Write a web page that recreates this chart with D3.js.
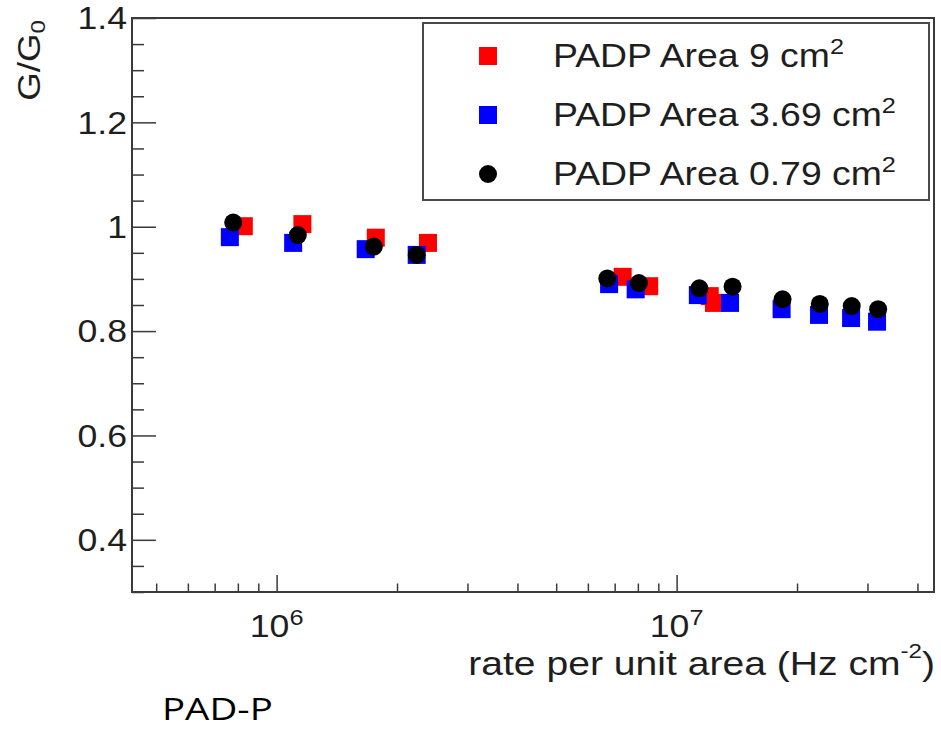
<!DOCTYPE html>
<html>
<head>
<meta charset="utf-8">
<script src="https://cdn.jsdelivr.net/npm/d3@7/dist/d3.min.js"></script>
<style>
body { margin:0; background:#fff; }
text { font-family:"Liberation Sans", Arial, Helvetica, sans-serif; fill:#1e1e1e; }
.tick line { stroke:#3a3a3a; stroke-width:1.5; }
</style>
</head>
<body>
<svg id="chart" width="941" height="730"></svg>
<script>
/* data */
var seriesNames = ["PADP Area 9 cm", "PADP Area 3.69 cm", "PADP Area 0.79 cm"]
var seriesColors = ["#ff0000", "#0000ff", "#000000"]
var seriesShapes = ["square", "square", "circle"]

var rate9 = [8.28e5, 1.16e6, 1.77e6, 2.39e6, 7.33e6, 8.54e6, 1.21e7, 1.24e7]
var gain9 = [1.001, 1.005, 0.979, 0.969, 0.904, 0.886, 0.867, 0.854]

var rate369 = [7.64e5, 1.10e6, 1.67e6, 2.24e6, 6.78e6, 7.90e6, 1.13e7, 1.36e7, 1.83e7, 2.27e7, 2.73e7, 3.17e7]
var gain369 = [0.980, 0.969, 0.957, 0.946, 0.890, 0.880, 0.869, 0.854, 0.842, 0.831, 0.825, 0.818]

var rate079 = [7.79e5, 1.13e6, 1.75e6, 2.24e6, 6.71e6, 8.05e6, 1.14e7, 1.38e7, 1.84e7, 2.28e7, 2.74e7, 3.19e7]
var gain079 = [1.008, 0.984, 0.962, 0.946, 0.901, 0.892, 0.882, 0.885, 0.861, 0.852, 0.848, 0.842]

var xMajorTicks = [1e6, 1e7]
var xTickExp = ["6", "7"]
var yMajorTicks = [0.4, 0.6, 0.8, 1.0, 1.2, 1.4]
var yTickLabels = ["0.4", "0.6", "0.8", "1", "1.2", "1.4"]

var seriesRates = [rate9, rate369, rate079]
var seriesGains = [gain9, gain369, gain079]

/* layout */
var svg = d3.select("#chart")
var frame = {left:132, top:18, right:934, bottom:592}
var sx = 1.15
var markSize = 18

function stretchAt(x, y) {
  return "translate(" + x + "," + y + ") scale(" + sx + ",1)"
}

var xScale = d3.scaleLog()
  .domain([4.35e5, 4.4e7])
  .range([frame.left, frame.right])
var yScale = d3.scaleLinear()
  .domain([0.3, 1.4])
  .range([frame.bottom, frame.top])

/* ticks, drawn inward like ROOT */
var xMinor = xScale.ticks().filter(function(d) { return xMajorTicks.indexOf(d) < 0 })
var yMinor = yScale.ticks(22).filter(function(d) {
  return !yMajorTicks.some(function(m) { return Math.abs(m - d) < 1e-6 })
})

var xAxisMajor = svg.append("g")
  .attr("transform","translate(0," + frame.bottom + ")")
  .call(d3.axisBottom(xScale).tickValues(xMajorTicks).tickSize(-17).tickFormat(""))
var xAxisMinor = svg.append("g")
  .attr("transform","translate(0," + frame.bottom + ")")
  .call(d3.axisBottom(xScale).tickValues(xMinor).tickSize(-8.5).tickFormat(""))
var yAxisMajor = svg.append("g")
  .attr("transform","translate(" + frame.left + ",0)")
  .call(d3.axisLeft(yScale).tickValues(yMajorTicks).tickSize(-24).tickFormat(""))
var yAxisMinor = svg.append("g")
  .attr("transform","translate(" + frame.left + ",0)")
  .call(d3.axisLeft(yScale).tickValues(yMinor).tickSize(-12).tickFormat(""))
svg.selectAll(".domain").remove()

/* frame */
svg.append("rect")
  .attr("x",frame.left)
  .attr("y",frame.top)
  .attr("width",frame.right - frame.left)
  .attr("height",frame.bottom - frame.top)
  .attr("fill","none")
  .attr("stroke","#3a3a3a")
  .attr("stroke-width",2)

/* tick labels */
svg.selectAll(".ylab")
  .data(yMajorTicks)
  .enter()
  .append("text")
  .attr("class","ylab")
  .attr("transform",function(d) { return stretchAt(frame.left - 5, yScale(d)) })
  .attr("dy","0.36em")
  .attr("text-anchor","end")
  .attr("font-size",31)
  .text(function(d,i) { return yTickLabels[i] })

var xLab = svg.selectAll(".xlab")
  .data(xMajorTicks)
  .enter()
  .append("text")
  .attr("class","xlab")
  .attr("transform",function(d) { return stretchAt(xScale(d), 637) })
  .attr("text-anchor","middle")
  .attr("font-size",31)
xLab.append("tspan").text("10")
xLab.append("tspan")
  .attr("font-size",22)
  .attr("dy",-12)
  .text(function(d,i) { return xTickExp[i] })

/* axis titles */
var xTitle = svg.append("text")
  .attr("transform",stretchAt(frame.right + 1, 675))
  .attr("text-anchor","end")
  .attr("font-size",34)
xTitle.append("tspan").text("rate per unit area (Hz cm")
xTitle.append("tspan").attr("font-size",21).attr("dy",-17).text("-2")
xTitle.append("tspan").attr("dy",17).text(")")

var yTitle = svg.append("text")
  .attr("transform","translate(40,20) rotate(-90) scale(" + sx + ",1)")
  .attr("text-anchor","end")
  .attr("font-size",32)
yTitle.append("tspan").text("G/G")
yTitle.append("tspan").attr("font-size",21).attr("dy",5).text("0")

/* data points */
function drawMarker(sel, shape, color) {
  if (shape == "circle") {
    sel.append("circle")
      .attr("r",markSize / 2)
      .attr("fill",color)
  } else {
    sel.append("rect")
      .attr("x",-markSize / 2)
      .attr("y",-markSize / 2)
      .attr("width",markSize)
      .attr("height",markSize)
      .attr("fill",color)
  }
}

seriesNames.forEach(function(name, s) {
  var pts = seriesRates[s].map(function(r,i) { return {rate:r, gain:seriesGains[s][i]} })
  var g = svg.append("g").attr("class","series-" + s)
  g.selectAll("g")
    .data(pts)
    .enter()
    .append("g")
    .attr("transform",function(d) { return "translate(" + xScale(d.rate) + "," + yScale(d.gain) + ")" })
    .each(function() { drawMarker(d3.select(this), seriesShapes[s], seriesColors[s]) })
})

/* legend */
var legend = svg.append("g").attr("class","legend")
legend.append("rect")
  .attr("x",423)
  .attr("y",23)
  .attr("width",506)
  .attr("height",177)
  .attr("fill","#fff")
  .attr("stroke","#4a4a4a")
  .attr("stroke-width",2)

seriesNames.forEach(function(name, s) {
  var rowY = 56 + s * 59
  var m = legend.append("g").attr("transform","translate(488," + rowY + ")")
  drawMarker(m, seriesShapes[s], seriesColors[s])
  var t = legend.append("text")
    .attr("transform",stretchAt(553, rowY + 11))
    .attr("font-size",32.5)
  t.append("tspan").text(name)
  t.append("tspan").attr("font-size",22).attr("dy",-13).text("2")
})

/* caption below the chart */
svg.append("text")
  .attr("transform","translate(162,720) scale(1.24,1)")
  .style("font-family","'Open Sans', 'Noto Sans', sans-serif")
  .style("fill","#000")
  .attr("font-size",31)
  .text("PAD-P")
</script>
</body>
</html>
